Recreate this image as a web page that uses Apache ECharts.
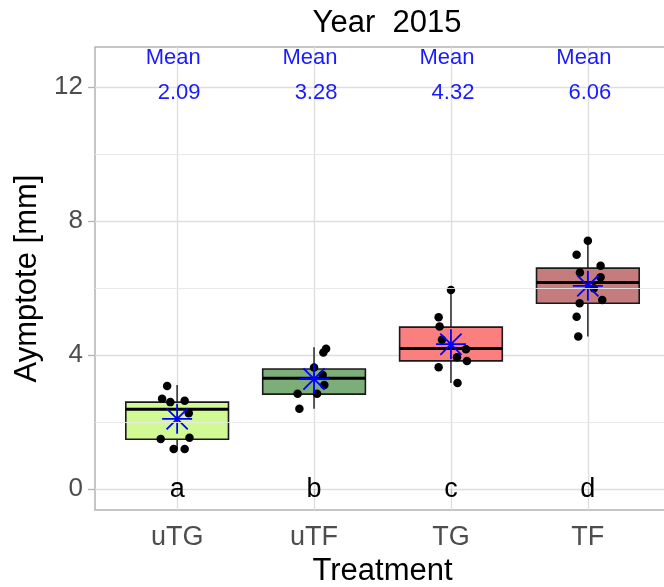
<!DOCTYPE html>
<html>
<head>
<meta charset="utf-8">
<script src="https://cdn.jsdelivr.net/npm/echarts@6/dist/echarts.min.js"></script>
<style>
  html, body { margin: 0; padding: 0; background: #ffffff; }
  #chart { width: 664px; height: 587px; }
</style>
</head>
<body>
<div id="chart"></div>
<script>
// Treatment groups along the x axis
const categories = ['uTG', 'uTF', 'TG', 'TF'];

// Box statistics per group (lower whisker, Q1, median, Q3, upper whisker), mm
const whiskerLow = [1.19, 2.39, 3.16, 4.55];
const quart1     = [1.48, 2.83, 3.82, 5.54];
const medians    = [2.38, 3.30, 4.19, 6.16];
const quart3     = [2.59, 3.58, 4.83, 6.59];
const whiskerHigh = [3.10, 4.23, 5.94, 7.41];

// Group means and significance letters
const means = [2.09, 3.28, 4.32, 6.06];
const groupLetters = ['a', 'b', 'c', 'd'];

// Individual observations: [horizontal jitter, asymptote in mm]
const obsUTG = [[-0.073, 3.07], [-0.11, 2.69], [-0.05, 2.59], [0.055, 2.63], [0.085, 2.26],
                [-0.12, 1.49], [0.09, 1.53], [-0.025, 1.19], [0.055, 1.19]];
const obsUTF = [[0.088, 4.18], [0.068, 4.07], [0.0, 3.62], [0.063, 3.40], [0.075, 3.10],
                [-0.12, 2.84], [0.022, 2.84], [-0.107, 2.39]];
const obsTG  = [[0.0, 5.94], [-0.09, 5.12], [-0.083, 4.85], [-0.066, 4.45], [0.11, 4.17],
                [0.044, 3.93], [0.117, 3.82], [-0.09, 3.63], [0.048, 3.16]];
const obsTF  = [[0.0, 7.41], [-0.082, 6.99], [0.093, 6.66], [-0.058, 6.46], [0.093, 6.32],
                [0.044, 5.99], [0.105, 5.64], [-0.06, 5.54], [-0.082, 5.14], [-0.07, 4.55]];

// Axis ticks
const yTicks = [0, 4, 8, 12];
const yMinorTicks = [2, 6, 10];
const xTicks = [1, 2, 3, 4];

// Styling
const boxFills = ['#d2fa94', '#7dae79', '#fc7f7f', '#c47c7c'];
const FONT = 'Liberation Sans, Arial, sans-serif';
const BOX_HALF = 0.375;

const chart = echarts.init(document.getElementById('chart'), null, { renderer: 'canvas' });

const boxData = categories.map((c, i) =>
  [i + 1, whiskerLow[i], quart1[i], medians[i], quart3[i], whiskerHigh[i], i]);

const obsGroups = [obsUTG, obsUTF, obsTG, obsTF];
const pointData = [];
obsGroups.forEach((g, i) => g.forEach(p => pointData.push([i + 1 + p[0], p[1]])));

const meanData = means.map((m, i) => [i + 1, m]);

const starPath = 'path://M0,-10L0,10M-10,0L10,0M-7.07,-7.07L7.07,7.07M-7.07,7.07L7.07,-7.07';

const option = {
  animation: false,
  backgroundColor: '#ffffff',
  title: {
    text: 'Year  2015',
    left: 382,
    top: 3,
    textAlign: 'center',
    textStyle: { fontFamily: FONT, fontSize: 31, fontWeight: 'normal', color: '#000000' }
  },
  grid: {
    left: 95, top: 47, bottom: 77,
    width: 575,
    containLabel: false,
    outerBoundsMode: 'none',
    show: true,
    borderColor: '#b3b3b3',
    borderWidth: 1.5,
    backgroundColor: 'transparent'
  },
  xAxis: {
    type: 'value',
    min: 0.4,
    max: 4.6,
    name: 'Treatment',
    nameLocation: 'middle',
    nameGap: 46,
    nameTextStyle: { fontFamily: FONT, fontSize: 31, color: '#000000' },
    axisLine: { show: false },
    axisTick: { show: true, customValues: xTicks, length: 7, lineStyle: { color: '#b3b3b3', width: 1.3 } },
    axisLabel: {
      customValues: xTicks,
      formatter: v => categories[Math.round(v) - 1] || '',
      fontFamily: FONT, fontSize: 27, color: '#4d4d4d', margin: 14
    },
    splitLine: { show: true, lineStyle: { color: '#dedede', width: 1.3 } }
  },
  yAxis: {
    type: 'value',
    min: -0.63,
    max: 13.19,
    name: 'Aymptote [mm]',
    nameLocation: 'middle',
    nameGap: 52,
    nameTextStyle: { fontFamily: FONT, fontSize: 31, color: '#000000' },
    axisLine: { show: false },
    axisTick: { show: true, customValues: yTicks, length: 7, lineStyle: { color: '#b3b3b3', width: 1.3 } },
    axisLabel: {
      customValues: yTicks,
      fontFamily: FONT, fontSize: 26, color: '#4d4d4d', margin: 12
    },
    splitLine: { show: true, lineStyle: { color: '#dedede', width: 1.3 } }
  },
  series: [
    {
      // minor grid lines
      type: 'scatter',
      data: [],
      z: 1,
      silent: true,
      markLine: {
        silent: true,
        symbol: ['none', 'none'],
        label: { show: false },
        lineStyle: { color: '#e6e6e6', width: 0.9, type: 'solid' },
        data: yMinorTicks.map(v => ({ yAxis: v }))
      }
    },
    {
      // boxes, whiskers and medians
      type: 'custom',
      z: 2,
      data: boxData,
      renderItem: function (params, api) {
        const x = api.value(0);
        const lo = api.value(1), q1 = api.value(2), med = api.value(3), q3 = api.value(4), hi = api.value(5);
        const idx = api.value(6);
        const pHi = api.coord([x, hi]);
        const pQ3 = api.coord([x, q3]);
        const pQ1 = api.coord([x, q1]);
        const pLo = api.coord([x, lo]);
        const tl = api.coord([x - BOX_HALF, q3]);
        const br = api.coord([x + BOX_HALF, q1]);
        const mL = api.coord([x - BOX_HALF, med]);
        const mR = api.coord([x + BOX_HALF, med]);
        const wStyle = { stroke: '#333333', lineWidth: 1.6 };
        return {
          type: 'group',
          children: [
            { type: 'line', shape: { x1: pHi[0], y1: pHi[1], x2: pQ3[0], y2: pQ3[1] }, style: wStyle },
            { type: 'line', shape: { x1: pQ1[0], y1: pQ1[1], x2: pLo[0], y2: pLo[1] }, style: wStyle },
            { type: 'rect', shape: { x: tl[0], y: tl[1], width: br[0] - tl[0], height: br[1] - tl[1] },
              style: { fill: boxFills[idx], stroke: '#1a1a1a', lineWidth: 1.6 } },
            { type: 'line', shape: { x1: mL[0], y1: mL[1], x2: mR[0], y2: mR[1] },
              style: { stroke: '#000000', lineWidth: 3 } }
          ]
        };
      }
    },
    {
      // individual observations
      type: 'scatter',
      z: 3,
      data: pointData,
      symbol: 'circle',
      symbolSize: 8.5,
      itemStyle: { color: '#000000', opacity: 1 }
    },
    {
      // group means
      type: 'scatter',
      z: 4,
      data: meanData,
      symbol: starPath,
      symbolSize: 30,
      itemStyle: { color: 'none', borderColor: '#0000ff', borderWidth: 1.8, opacity: 1 }
    },
    {
      // mean annotations and group letters
      type: 'custom',
      z: 5,
      data: categories.map((c, i) => [i + 1, means[i], i]),
      renderItem: function (params, api) {
        const x = api.value(0);
        const m = api.value(1);
        const idx = api.value(2);
        const pMeanWord = api.coord([x, 12.87]);
        const pMeanVal = api.coord([x, 11.83]);
        const pLetter = api.coord([x, 0]);
        const blue = { fill: '#1a1aff', fontFamily: FONT, fontSize: 22, align: 'center', verticalAlign: 'middle' };
        return {
          type: 'group',
          children: [
            { type: 'text', x: pMeanWord[0] - 4, y: pMeanWord[1], style: Object.assign({ text: 'Mean' }, blue) },
            { type: 'text', x: pMeanVal[0] + 2, y: pMeanVal[1], style: Object.assign({ text: m.toFixed(2) }, blue) },
            { type: 'text', x: pLetter[0], y: pLetter[1] + 1, style: {
                text: groupLetters[idx], fill: '#000000', fontFamily: FONT, fontSize: 27,
                align: 'center', verticalAlign: 'middle' } }
          ]
        };
      }
    }
  ]
};

chart.setOption(option);
</script>
</body>
</html>
